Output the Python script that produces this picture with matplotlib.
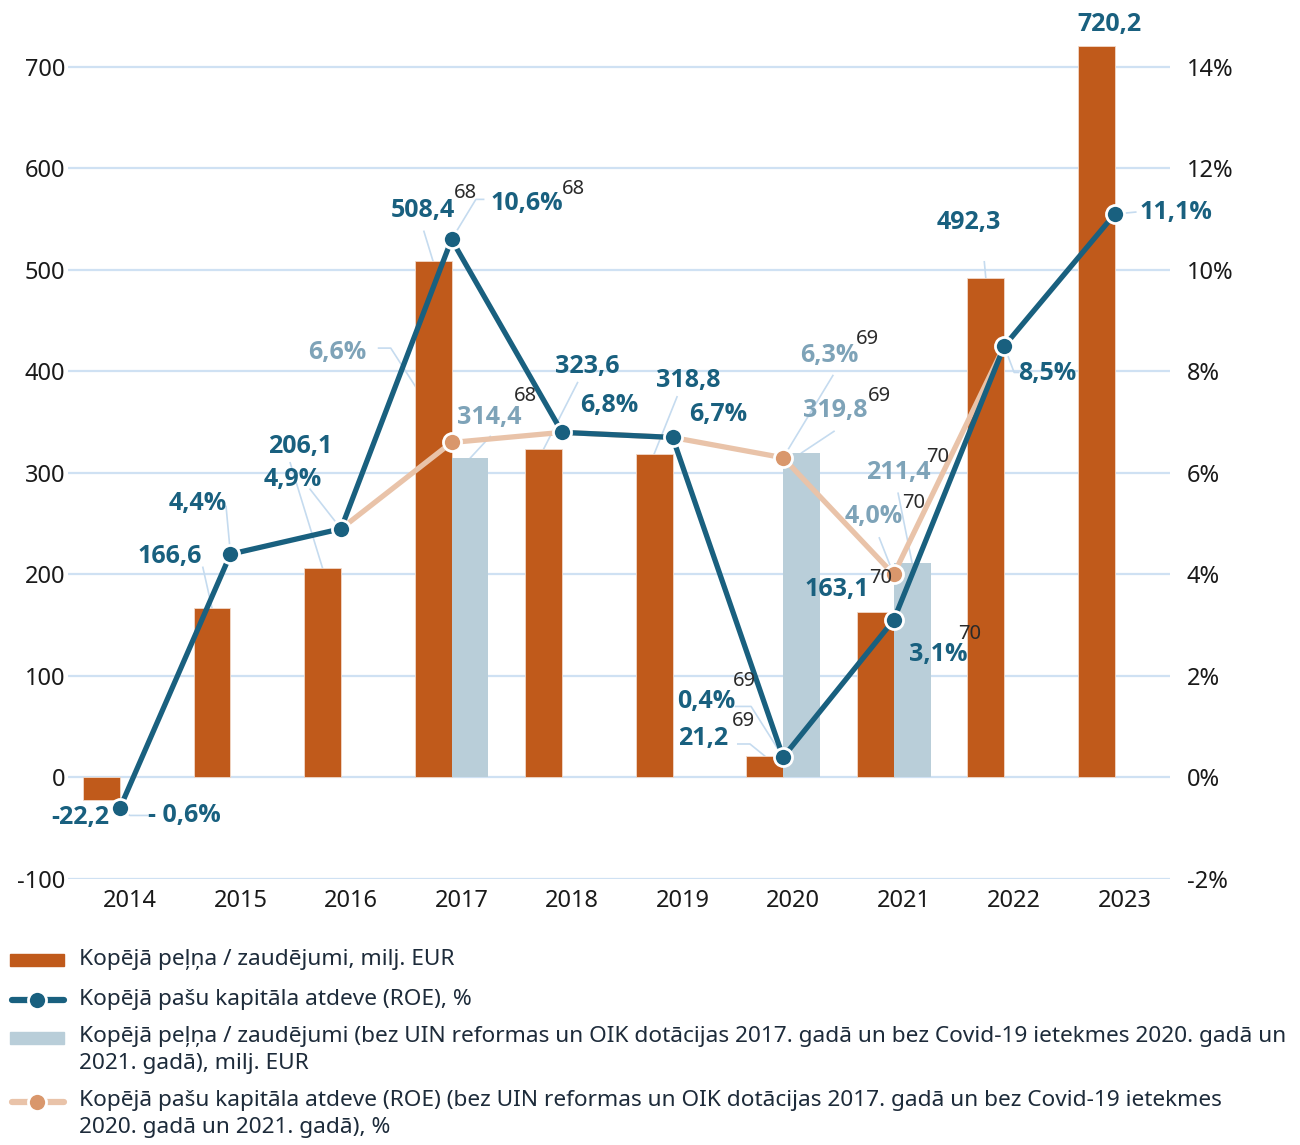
import matplotlib
matplotlib.use("Agg")
import matplotlib.pyplot as plt
import matplotlib.transforms as mtransforms
from matplotlib.lines import Line2D
from matplotlib.patches import Rectangle
import numpy as np

plt.rcParams['font.family'] = ['Noto Sans', 'DejaVu Sans']

# Data
years = ["2014", "2015", "2016", "2017", "2018", "2019", "2020", "2021", "2022", "2023"]
profit = [-22.2, 166.6, 206.1, 508.4, 323.6, 318.8, 21.2, 163.1, 492.3, 720.2]
profit_adj = [np.nan, np.nan, np.nan, 314.4, np.nan, np.nan, 319.8, 211.4, np.nan, np.nan]
roe = [-0.6, 4.4, 4.9, 10.6, 6.8, 6.7, 0.4, 3.1, 8.5, 11.1]
roe_adj = [np.nan, np.nan, 4.9, 6.6, 6.8, 6.7, 6.3, 4.0, 8.5, np.nan]

left_ticks = [-100, 0, 100, 200, 300, 400, 500, 600, 700]
right_ticks = [-2, 0, 2, 4, 6, 8, 10, 12, 14]

ORANGE = "#c05a1b"
GREY_BLUE = "#b9ced9"
DARK = "#19607f"
PEACH_LINE = "#e9c3a9"
PEACH_DOT = "#d9976c"
LIGHT_TXT = "#7ea3b8"
GRID = "#cfe1f3"
LEADER = "#c5dbef"
BOLD_FONT = ['Open Sans', 'Lato', 'DejaVu Sans']

fig = plt.figure(figsize=(13, 11.45), dpi=100)
ax = fig.add_axes([68 / 1300, 1 - 879 / 1145, (1170 - 68) / 1300, 873 / 1145])
ax2 = ax.twinx()

x = np.arange(len(years))
w = 1 / 3
scale = 50.0  # 1% ROE == 50 milj. EUR on the left axis

ax.bar(x - w / 2, profit, w, color=ORANGE, edgecolor="#f1d9c9", linewidth=0.6, zorder=2)
ax.bar(x + w / 2, profit_adj, w, color=GREY_BLUE, zorder=2)

ax.set_xlim(-0.47, 9.5)
ax.set_ylim(-100, 760)
ax2.set_ylim(-100 / scale, 760 / scale)

ax.set_yticks(left_ticks)
ax.set_yticklabels([str(t) for t in left_ticks])
ax2.set_yticks(right_ticks)
ax2.set_yticklabels([f"{t}%" for t in right_ticks])
ax.set_xticks(x)
ax.set_xticklabels(years)
ax.grid(axis="y", color=GRID, linewidth=1.6, zorder=0)
ax.set_axisbelow(True)
for a in (ax, ax2):
    for s in a.spines.values():
        s.set_visible(False)
ax.tick_params(axis="y", length=0, pad=2, labelsize=17, labelcolor="#1a1a1a")
ax2.tick_params(axis="y", length=0, pad=12, labelsize=17, labelcolor="#1a1a1a")
ax.tick_params(axis="x", length=0, pad=7, labelsize=17, labelcolor="#1a1a1a")
shift = mtransforms.ScaledTranslation(10 / 100, 0, fig.dpi_scale_trans)
for lab in ax.get_xticklabels():
    lab.set_transform(lab.get_transform() + shift)

# lines are drawn on the left axis in scaled units so they share the bars' space
roe_s = np.array(roe) * scale
roe_adj_s = np.array(roe_adj) * scale
ax.plot(x, roe_adj_s, color=PEACH_LINE, lw=3.8, zorder=3, solid_capstyle="round")
for i in (3, 6, 7):
    ax.plot(x[i], roe_adj_s[i], "o", ms=13, color=PEACH_DOT, mec="white", mew=2, zorder=4)
ax.plot(x, roe_s, color=DARK, lw=3.8, zorder=5, marker="o", ms=13, mfc=DARK, mec="white", mew=2)


def bar_top(i, side=-1, vals=profit):
    return (x[i] + side * w / 2, vals[i])


def dot(i, vals=roe_s):
    return (x[i], vals[i])


def leader(pts):
    xs = [p[0] for p in pts]
    ys = [p[1] for p in pts]
    ax.plot(xs, ys, color=LEADER, lw=1.2, zorder=1.5, clip_on=False)


def label(txt, pos, color=DARK, sup=None, sup_pos=None):
    ax.text(pos[0], pos[1], txt, color=color, fontsize=18, fontweight="bold",
            family=BOLD_FONT, ha="center", va="center", zorder=6, clip_on=False)
    if sup:
        ax.text(sup_pos[0], sup_pos[1], sup, color="#2a2a2a", fontsize=14.5,
                fontweight="light", ha="center", va="center", zorder=6, clip_on=False)


def fmt(v, pct=False):
    s = f"{v:.1f}".replace(".", ",")
    return s + "%" if pct else s


# 2014
label(fmt(profit[0]), (-0.36, -39))
label("- " + fmt(-roe[0], True), (0.58, -37))
leader([dot(0), (0.09, -37.4), (0.25, -37.4)])
# 2015
label(fmt(profit[1]), (0.45, 218))
leader([(0.75, 207), bar_top(1)])
label(fmt(roe[1], True), (0.70, 270))
leader([(0.96, 267), dot(1)])
# 2016
label(fmt(profit[2]), (1.63, 326))
leader([(1.54, 310), bar_top(2)])
label(fmt(roe[2], True), (1.56, 294))
leader([(1.72, 284), dot(2)])
# 2017
label(fmt(profit[3]), (2.74, 559), sup="68", sup_pos=(3.13, 576))
leader([(2.75, 538), bar_top(3)])
label(fmt(roe[3], True), (3.68, 565), sup="68", sup_pos=(4.10, 580))
leader([(3.29, 569.5), (3.22, 569.5), dot(3)])
label(fmt(roe_adj[3], True), (1.97, 419), color=LIGHT_TXT)
leader([(2.34, 423), (2.45, 423), dot(3, roe_adj_s)])
label(fmt(profit_adj[3]), (3.34, 355), color=LIGHT_TXT, sup="68", sup_pos=(3.67, 376))
leader([(3.35, 336), bar_top(3, 1, profit_adj)])
# 2018
label(fmt(profit[4]), (4.23, 405))
leader([(4.14, 389), bar_top(4)])
label(fmt(roe[4], True), (4.43, 366))
# 2019
label(fmt(profit[5]), (5.14, 391))
leader([(5.04, 375), bar_top(5)])
label(fmt(roe[5], True), (5.41, 358))
# 2020
label(fmt(roe[6], True), (5.30, 75), sup="69", sup_pos=(5.65, 95))
leader([(5.57, 70), (5.71, 70), dot(6)])
label(fmt(profit[6]), (5.28, 38), sup="69", sup_pos=(5.64, 56))
leader([(5.59, 33), (5.70, 33), bar_top(6)])
label(fmt(roe_adj[6], True), (6.42, 416), color=LIGHT_TXT, sup="69", sup_pos=(6.76, 432))
leader([(6.45, 396), dot(6, roe_adj_s)])
label(fmt(profit_adj[6]), (6.47, 362), color=LIGHT_TXT, sup="69", sup_pos=(6.87, 376))
leader([(6.46, 341), bar_top(6, 1, profit_adj)])
# 2021
label(fmt(profit_adj[7]), (7.04, 300), color=LIGHT_TXT, sup="70", sup_pos=(7.40, 316))
leader([(7.04, 280), bar_top(7, 1, profit_adj)])
label(fmt(roe_adj[7], True), (6.82, 257), color=LIGHT_TXT, sup="70", sup_pos=(7.18, 270))
leader([(6.87, 236), dot(7, roe_adj_s)])
label(fmt(profit[7]), (6.49, 185), sup="70", sup_pos=(6.88, 197))
label(fmt(roe[7], True), (7.40, 121), sup="70", sup_pos=(7.69, 141))
leader([dot(7), (7.07, 126), (7.16, 126)])
# 2022
label(fmt(profit[8]), (7.68, 547))
leader([(7.82, 508), bar_top(8)])
label(fmt(roe[8], True), (8.39, 398))
leader([dot(8), (8.09, 399), (8.13, 399)])
# 2023
label(fmt(profit[9]), (8.95, 742))
label(fmt(roe[9], True), (9.55, 557))
leader([dot(9), (9.19, 557)])

# legend drawn by hand so the keys sit on the first line of each entry
entries = [
    ("bar", ORANGE, None, "Kopējā peļņa / zaudējumi, milj. EUR", 960),
    ("line", DARK, DARK, "Kopējā pašu kapitāla atdeve (ROE), %", 1000),
    ("bar", GREY_BLUE, None, "Kopējā peļņa / zaudējumi (bez UIN reformas un OIK dotācijas 2017. gadā un bez Covid-19 ietekmes 2020. gadā un\n2021. gadā), milj. EUR", 1038),
    ("line", PEACH_LINE, PEACH_DOT, "Kopējā pašu kapitāla atdeve (ROE) (bez UIN reformas un OIK dotācijas 2017. gadā un bez Covid-19 ietekmes\n2020. gadā un 2021. gadā), %", 1102),
]
H = 1145.0
for kind, col, dcol, txt, py in entries:
    yf = 1 - py / H
    if kind == "bar":
        fig.add_artist(Rectangle((10 / 1300, yf - 6 / H), 54 / 1300, 12 / H,
                                 transform=fig.transFigure, color=col))
    else:
        fig.add_artist(Line2D([12 / 1300, 64 / 1300], [yf, yf], transform=fig.transFigure,
                              color=col, lw=4.5, solid_capstyle="round"))
        fig.add_artist(Line2D([37 / 1300], [yf], transform=fig.transFigure, marker="o",
                              ms=13, color=dcol, mec="white", mew=2))
    multi = "\n" in txt
    fig.text(79 / 1300, yf + (12 / H if multi else 0), txt, ha="left",
             va="top" if multi else "center", fontsize=16.3, color="#1d2b3a",
             linespacing=1.4, transform=fig.transFigure)

fig.savefig("out.png", dpi=100, facecolor="white")
